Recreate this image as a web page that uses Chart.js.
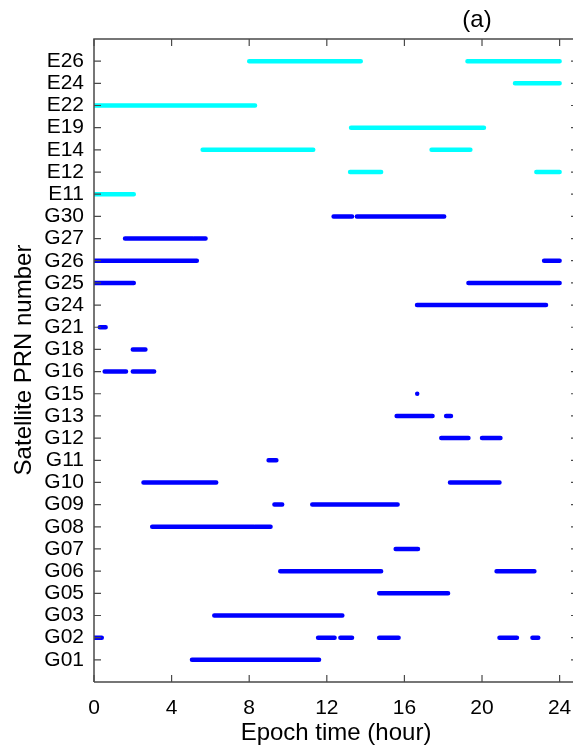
<!DOCTYPE html>
<html>
<head>
<meta charset="utf-8">
<script src="https://cdn.jsdelivr.net/npm/chart.js@4"></script>
<style>
  html, body { margin: 0; padding: 0; background: #fff; }
  #wrap { width: 573px; height: 749px; }
</style>
</head>
<body>
<div id="wrap"><canvas id="chartCanvas" width="573" height="749"></canvas></div>
<script>
// satellites, bottom to top
const categories = ['G01','G02','G03','G05','G06','G07','G08','G09','G10','G11','G12','G13','G15','G16','G18','G21','G24','G25','G26','G27','G30','E11','E12','E14','E19','E22','E24','E26'];

// visible periods in hours, one list per satellite
const gpsSats = ['G01','G02','G03','G05','G06','G07','G08','G09','G10','G11','G12','G13','G15','G16','G18','G21','G24','G25','G26','G27','G30'];
const gpsSegments = [
    [[5.05, 11.6]],
    [[0, 0.4], [11.55, 12.4], [12.7, 13.3], [14.7, 15.7], [20.9, 21.8], [22.6, 22.9]],
    [[6.2, 12.8]],
    [[14.7, 18.25]],
    [[9.6, 14.8], [20.75, 22.7]],
    [[15.55, 16.7]],
    [[3.0, 8.25], [8.3, 9.1]],
    [[9.3, 9.7], [11.25, 15.65]],
    [[2.55, 6.3], [18.35, 20.9]],
    [[9.0, 9.4]],
    [[17.9, 19.3], [20.0, 20.95]],
    [[15.6, 17.45], [18.15, 18.4]],
    [[16.66, 16.7]],
    [[0.55, 1.65], [2.0, 3.1]],
    [[2.0, 2.65]],
    [[0.3, 0.6]],
    [[16.65, 23.3]],
    [[0, 2.05], [19.3, 24]],
    [[0, 5.3], [23.2, 24]],
    [[1.6, 5.1], [5.15, 5.75]],
    [[12.35, 13.3], [13.55, 18.05]]
];

const galSats = ['E11','E12','E14','E19','E22','E24','E26'];
const galSegments = [
    [[0, 2.05]],
    [[13.2, 14.8], [22.8, 24]],
    [[5.6, 11.3], [17.4, 19.4]],
    [[13.25, 20.1]],
    [[0, 8.3]],
    [[21.7, 24]],
    [[8.0, 13.75], [19.25, 24]]
];

const xTickValues = [0, 4, 8, 12, 16, 20, 24];

function buildPoints(sats, segments) {
    let pts = [];
    sats.forEach((sat, i) => {
        let y = categories.indexOf(sat) + 1;
        segments[i].forEach(seg => {
            pts.push({x: seg[0], y: y});
            pts.push({x: seg[1], y: y});
            pts.push({x: seg[1], y: null});
        });
    });
    return pts;
}

const frameColor = '#4a4a4a';

const framePlugin = {
    id: 'frame',
    afterDraw(chart) {
        let ctx = chart.ctx;
        let a = chart.chartArea;
        let xs = chart.scales.x, ys = chart.scales.y;
        ctx.save();
        ctx.strokeStyle = frameColor;
        ctx.lineWidth = 1.5;
        ctx.beginPath();
        ctx.moveTo(a.left, a.bottom);
        ctx.lineTo(a.left, a.top);
        ctx.lineTo(a.right + 2, a.top);
        ctx.moveTo(a.left, a.bottom);
        ctx.lineTo(a.right + 2, a.bottom);
        ctx.stroke();
        ctx.lineWidth = 1.2;
        ctx.beginPath();
        xTickValues.forEach(v => {
            let px = xs.getPixelForValue(v);
            ctx.moveTo(px, a.bottom); ctx.lineTo(px, a.bottom - 7);
            ctx.moveTo(px, a.top); ctx.lineTo(px, a.top + 7);
        });
        categories.forEach((c, i) => {
            let py = ys.getPixelForValue(i + 1);
            ctx.moveTo(a.left, py); ctx.lineTo(a.left + 7, py);
            ctx.moveTo(a.right, py); ctx.lineTo(a.right - 2, py);
        });
        ctx.stroke();

        ctx.fillStyle = '#000';
        ctx.font = '24px "Liberation Sans", Arial, sans-serif';
        ctx.textAlign = 'center';
        ctx.textBaseline = 'middle';
        ctx.fillText('Epoch time (hour)', 336, 733);
        ctx.fillText('(a)', 477, 20);
        ctx.translate(24, 360);
        ctx.rotate(-Math.PI / 2);
        ctx.fillText('Satellite PRN number', 0, 0);
        ctx.restore();
    }
};

let ctx = document.getElementById('chartCanvas').getContext('2d');
let chart = new Chart(ctx, {
    type: 'line',
    data: {
        datasets: [
            {
                label: 'GPS',
                data: buildPoints(gpsSats, gpsSegments),
                borderColor: '#0000ff',
                borderWidth: 4.5,
                borderCapStyle: 'round',
                pointRadius: 0,
                spanGaps: false,
                clip: 0
            },
            {
                label: 'Galileo',
                data: buildPoints(galSats, galSegments),
                borderColor: '#00ffff',
                borderWidth: 4.5,
                borderCapStyle: 'round',
                pointRadius: 0,
                spanGaps: false,
                clip: 0
            }
        ]
    },
    options: {
        responsive: false,
        animation: false,
        devicePixelRatio: 1,
        layout: { padding: { top: 39, right: 0, left: 0, bottom: 0 } },
        plugins: { legend: { display: false }, tooltip: { enabled: false } },
        scales: {
            x: {
                type: 'linear',
                min: 0,
                max: 24.69,
                afterBuildTicks: s => { s.ticks = xTickValues.map(v => ({value: v})); },
                afterFit: s => { s.height = 67; s.paddingRight = 0; s.paddingLeft = 0; },
                grid: { display: false, drawTicks: false },
                border: { display: false },
                ticks: {
                    color: '#000',
                    padding: 14,
                    maxRotation: 0,
                    font: { family: '"Liberation Sans", Arial, sans-serif', size: 21 }
                }
            },
            y: {
                type: 'linear',
                min: 0,
                max: 29,
                afterBuildTicks: s => { s.ticks = categories.map((c, i) => ({value: i + 1})); },
                afterFit: s => { s.width = 94; s.paddingTop = 0; s.paddingBottom = 0; },
                grid: { display: false, drawTicks: false },
                border: { display: false },
                ticks: {
                    color: '#000',
                    padding: 10,
                    autoSkip: false,
                    callback: v => categories[v - 1],
                    font: { family: '"Liberation Sans", Arial, sans-serif', size: 21 }
                }
            }
        }
    },
    plugins: [framePlugin]
});
</script>
</body>
</html>
